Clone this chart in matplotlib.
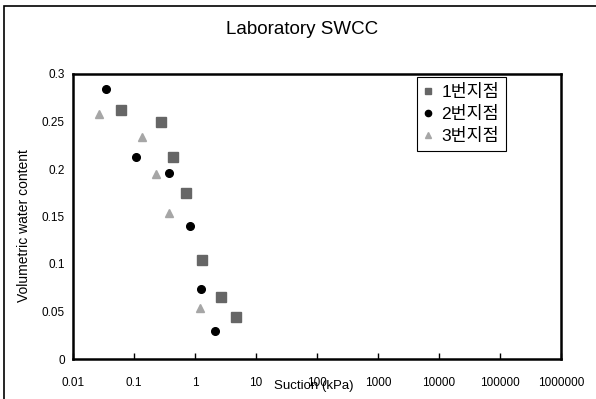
import matplotlib.pyplot as plt
from matplotlib.lines import Line2D
from matplotlib.patches import Rectangle
from matplotlib.ticker import FixedLocator, FixedFormatter, NullLocator

plt.rcParams['font.family'] = ['Liberation Sans', 'Noto Sans CJK KR', 'DejaVu Sans']

# site 1 (squares)
s1_x = [0.062, 0.274, 0.43, 0.713, 1.29, 2.64, 4.77]
s1_y = [0.262, 0.249, 0.2125, 0.175, 0.104, 0.065, 0.044]
# site 2 (circles)
s2_x = [0.0344, 0.107, 0.38, 0.84, 1.24, 2.13]
s2_y = [0.284, 0.2125, 0.196, 0.140, 0.0734, 0.030]
# site 3 (triangles)
s3_x = [0.0267, 0.134, 0.23, 0.38, 1.19]
s3_y = [0.258, 0.2336, 0.195, 0.154, 0.0534]

labels = ['1번지점', '2번지점', '3번지점']
xticks = [0.01, 0.1, 1, 10, 100, 1000, 10000, 100000, 1000000]
xtick_labels = ['0.01', '0.1', '1', '10', '100', '1000', '10000', '100000', '1000000']
yticks = [0, 0.05, 0.1, 0.15, 0.2, 0.25, 0.3]
ytick_labels = ['0', '0.05', '0.1', '0.15', '0.2', '0.25', '0.3']

W, H = 596, 399
fig = plt.figure(figsize=(W / 100, H / 100), dpi=100)

# outer frame (only left and top visible in the reference)
fig.patches.append(Rectangle((4 / W, -0.1), 1.2, 1 - 6 / H + 0.1, transform=fig.transFigure,
                             fill=False, edgecolor='black', linewidth=1.2))

ax = fig.add_axes([73 / W, 1 - 359 / H, 488 / W, 285 / H])

ax.plot(s1_x, s1_y, linestyle='None', marker='s', markersize=7.5, color='#666666')
ax.plot(s2_x, s2_y, linestyle='None', marker='o', markersize=5.5, color='black')
ax.plot(s3_x, s3_y, linestyle='None', marker='^', markersize=6, color='#a6a6a6')

ax.set_xscale('log')
ax.set_xlim(0.01, 1000000)
ax.set_ylim(0, 0.3)
ax.xaxis.set_major_locator(FixedLocator(xticks))
ax.xaxis.set_major_formatter(FixedFormatter(xtick_labels))
ax.xaxis.set_minor_locator(NullLocator())
ax.set_yticks(yticks)
ax.set_yticklabels(ytick_labels)

ax.tick_params(axis='x', direction='in', length=4, width=1, pad=13, labelsize=8.5)
ax.tick_params(axis='y', length=0, pad=6, labelsize=8.5)
for sp in ax.spines.values():
    sp.set_linewidth(1.8)

# x label sits on top of the "100" tick label, as in the original
ax.set_xlabel('Suction (kPa)', fontsize=9.5)
ax.xaxis.set_label_coords((314 - 73) / 488, -(380 - 359) / 285)
ax.set_ylabel('Volumetric water content', fontsize=10)
ax.yaxis.set_label_coords(-(73 - 31) / 488, (359 - 226) / 285)

fig.text(302 / W, 1 - 30 / H, 'Laboratory SWCC', ha='center', va='center', fontsize=13.5)

handles = [
    Line2D([], [], linestyle='None', marker='s', markersize=5, color='#666666'),
    Line2D([], [], linestyle='None', marker='o', markersize=4.5, color='black'),
    Line2D([], [], linestyle='None', marker='^', markersize=4.5, color='#a6a6a6'),
]
leg = ax.legend(handles, labels, loc='upper left',
                bbox_to_anchor=((417 - 73) / 488, (359 - 77) / 285),
                borderaxespad=0, fancybox=False, edgecolor='black', framealpha=1,
                fontsize=12.5, handlelength=0.5, handletextpad=0.5, labelspacing=0.35,
                borderpad=0.4)
leg.get_frame().set_linewidth(0.8)

fig.savefig('out.png', dpi=100)
